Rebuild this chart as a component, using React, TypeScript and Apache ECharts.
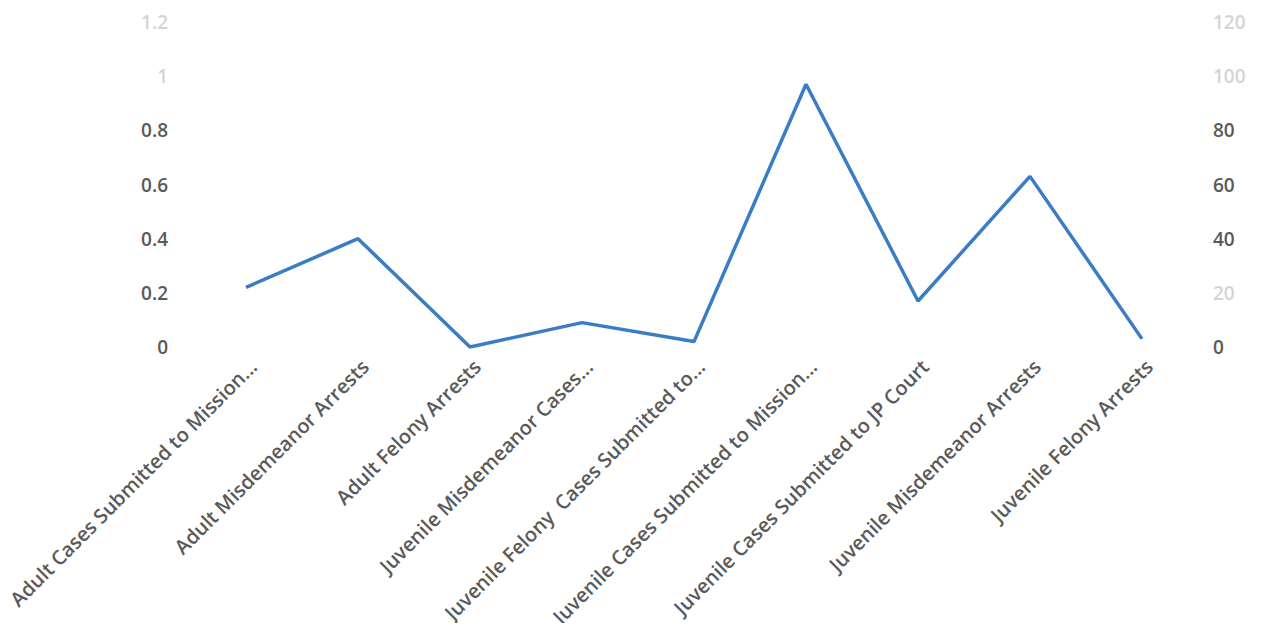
import React, { useEffect, useRef } from "react";
import * as echarts from "echarts";

const categories = [
  "Adult Cases Submitted to Mission...",
  "Adult Misdemeanor Arrests",
  "Adult Felony Arrests",
  "Juvenile Misdemeanor Cases...",
  "Juvenile Felony  Cases Submitted to...",
  "Juvenile Cases Submitted to Mission...",
  "Juvenile Cases Submitted to JP Court",
  "Juvenile Misdemeanor Arrests",
  "Juvenile Felony Arrests",
];
const values = [22, 40, 0, 9, 2, 97, 17, 63, 3];
const leftTicks = { min: 0, max: 1.2, interval: 0.2 };
const rightTicks = { min: 0, max: 120, interval: 20 };
const fadedLeft = [1.2, 1];
const fadedRight = [120, 100, 20];

export default function App() {
  const ref = useRef<HTMLDivElement>(null);
  useEffect(() => {
    if (!ref.current) return;
    const chart = echarts.init(ref.current, undefined, { renderer: "svg" });
    const font = "'Open Sans', sans-serif";
    chart.setOption({
      animation: false,
      grid: { left: 190, right: 67, top: 22, bottom: 284, containLabel: false },
      xAxis: {
        type: "category",
        data: categories,
        boundaryGap: true,
        axisLine: { show: false },
        axisTick: { show: false },
        axisLabel: {
          rotate: 45,
          interval: 0,
          color: "#595959",
          fontFamily: font,
          fontSize: 20,
          fontWeight: 600,
          margin: 9,
          verticalAlign: "top",
        },
      },
      yAxis: [
        {
          type: "value",
          ...leftTicks,
          splitLine: { show: false },
          axisLine: { show: false },
          axisTick: { show: false },
          axisLabel: {
            margin: 22,
            fontFamily: font,
            fontSize: 19,
            fontWeight: 600,
            formatter: (v: number) => String(Math.round(v * 10) / 10),
            color: (v: any) =>
              fadedLeft.some((f) => Math.abs(f - Number(v)) < 1e-6) ? "#d4d4d4" : "#595959",
          },
        },
        {
          type: "value",
          ...rightTicks,
          splitLine: { show: false },
          axisLine: { show: false },
          axisTick: { show: false },
          axisLabel: {
            margin: 15,
            fontFamily: font,
            fontSize: 19,
            fontWeight: 600,
            color: (v: any) => (fadedRight.includes(Number(v)) ? "#d4d4d4" : "#595959"),
          },
        },
      ],
      series: [
        {
          type: "line",
          yAxisIndex: 1,
          data: values,
          symbol: "none",
          lineStyle: { color: "#3a7dc4", width: 3.5 },
        },
      ],
    });
    return () => chart.dispose();
  }, []);
  return <div ref={ref} style={{ width: 1265, height: 631, margin: -8 }} />;
}
